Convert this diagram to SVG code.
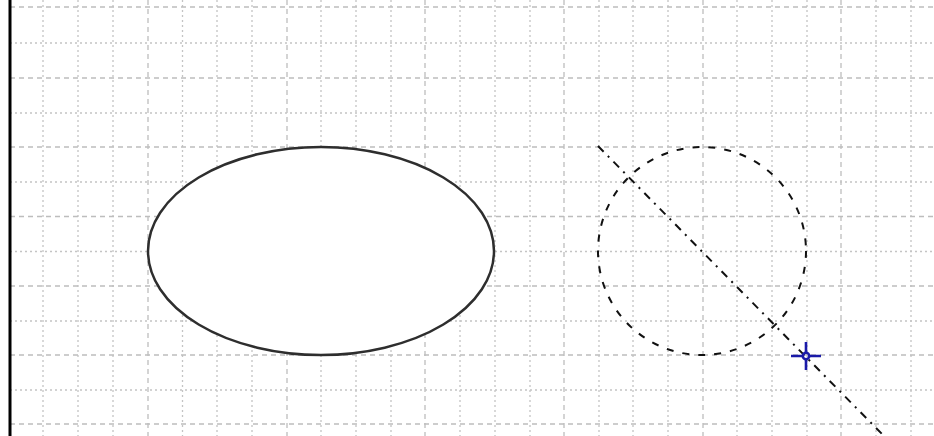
<svg xmlns="http://www.w3.org/2000/svg" width="934" height="436" viewBox="0 0 934 436">
<defs>
<style>
.g1{stroke:#bdbdbd;stroke-width:1.3;stroke-dasharray:5,4;fill:none}
.g2{stroke:#c4c4c4;stroke-width:1.3;stroke-dasharray:2,3;fill:none}
.shape{fill:#fff;stroke:#2e2e2e;stroke-width:2.5}
.circ{fill:none;stroke:#111;stroke-width:2;stroke-dasharray:7,9}
.axis{fill:none;stroke:#111;stroke-width:2;stroke-dasharray:8,6,2,6}
.cross{fill:none;stroke:#1a1aa8;stroke-width:2.6}
</style>
</defs>
<rect width="934" height="436" fill="#fff"/>
<g id="grid">
<path class="g2" d="M43 0V436M78 0V436M113 0V436M182.5 0V436M217 0V436M252 0V436M321 0V436M356 0V436M391 0V436M460 0V436M495 0V436M530 0V436M599 0V436M633 0V436M668 0V436M737 0V436M772 0V436M807 0V436M876 0V436M911 0V436"/>
<path class="g1" d="M148 0V436M287 0V436M425 0V436M564 0V436M703 0V436M841 0V436"/>
<path class="g1" d="M10 7H934M10 78H934M10 147H934M10 216.5H934M10 286H934M10 355H934M10 424H934"/>
<path class="g2" d="M10 43H934M10 113H934M10 182H934M10 251.5H934M10 321H934M10 390H934"/>
</g>
<line x1="10" y1="0" x2="10" y2="436" stroke="#000" stroke-width="3"/>
<g id="ellipse">
<ellipse class="shape" cx="321" cy="251" rx="173" ry="104"/>
</g>
<g id="dashed-circle">
<circle class="circ" cx="702" cy="251" r="104"/>
</g>
<g id="connectors">
<line class="axis" x1="598" y1="146" x2="882" y2="434"/>
</g>
<g id="cursor">
<circle class="cross" cx="806" cy="356" r="3.2"/>
<path class="cross" d="M791 356H803M809 356H821M806 342V353M806 359V370"/>
</g>
</svg>
